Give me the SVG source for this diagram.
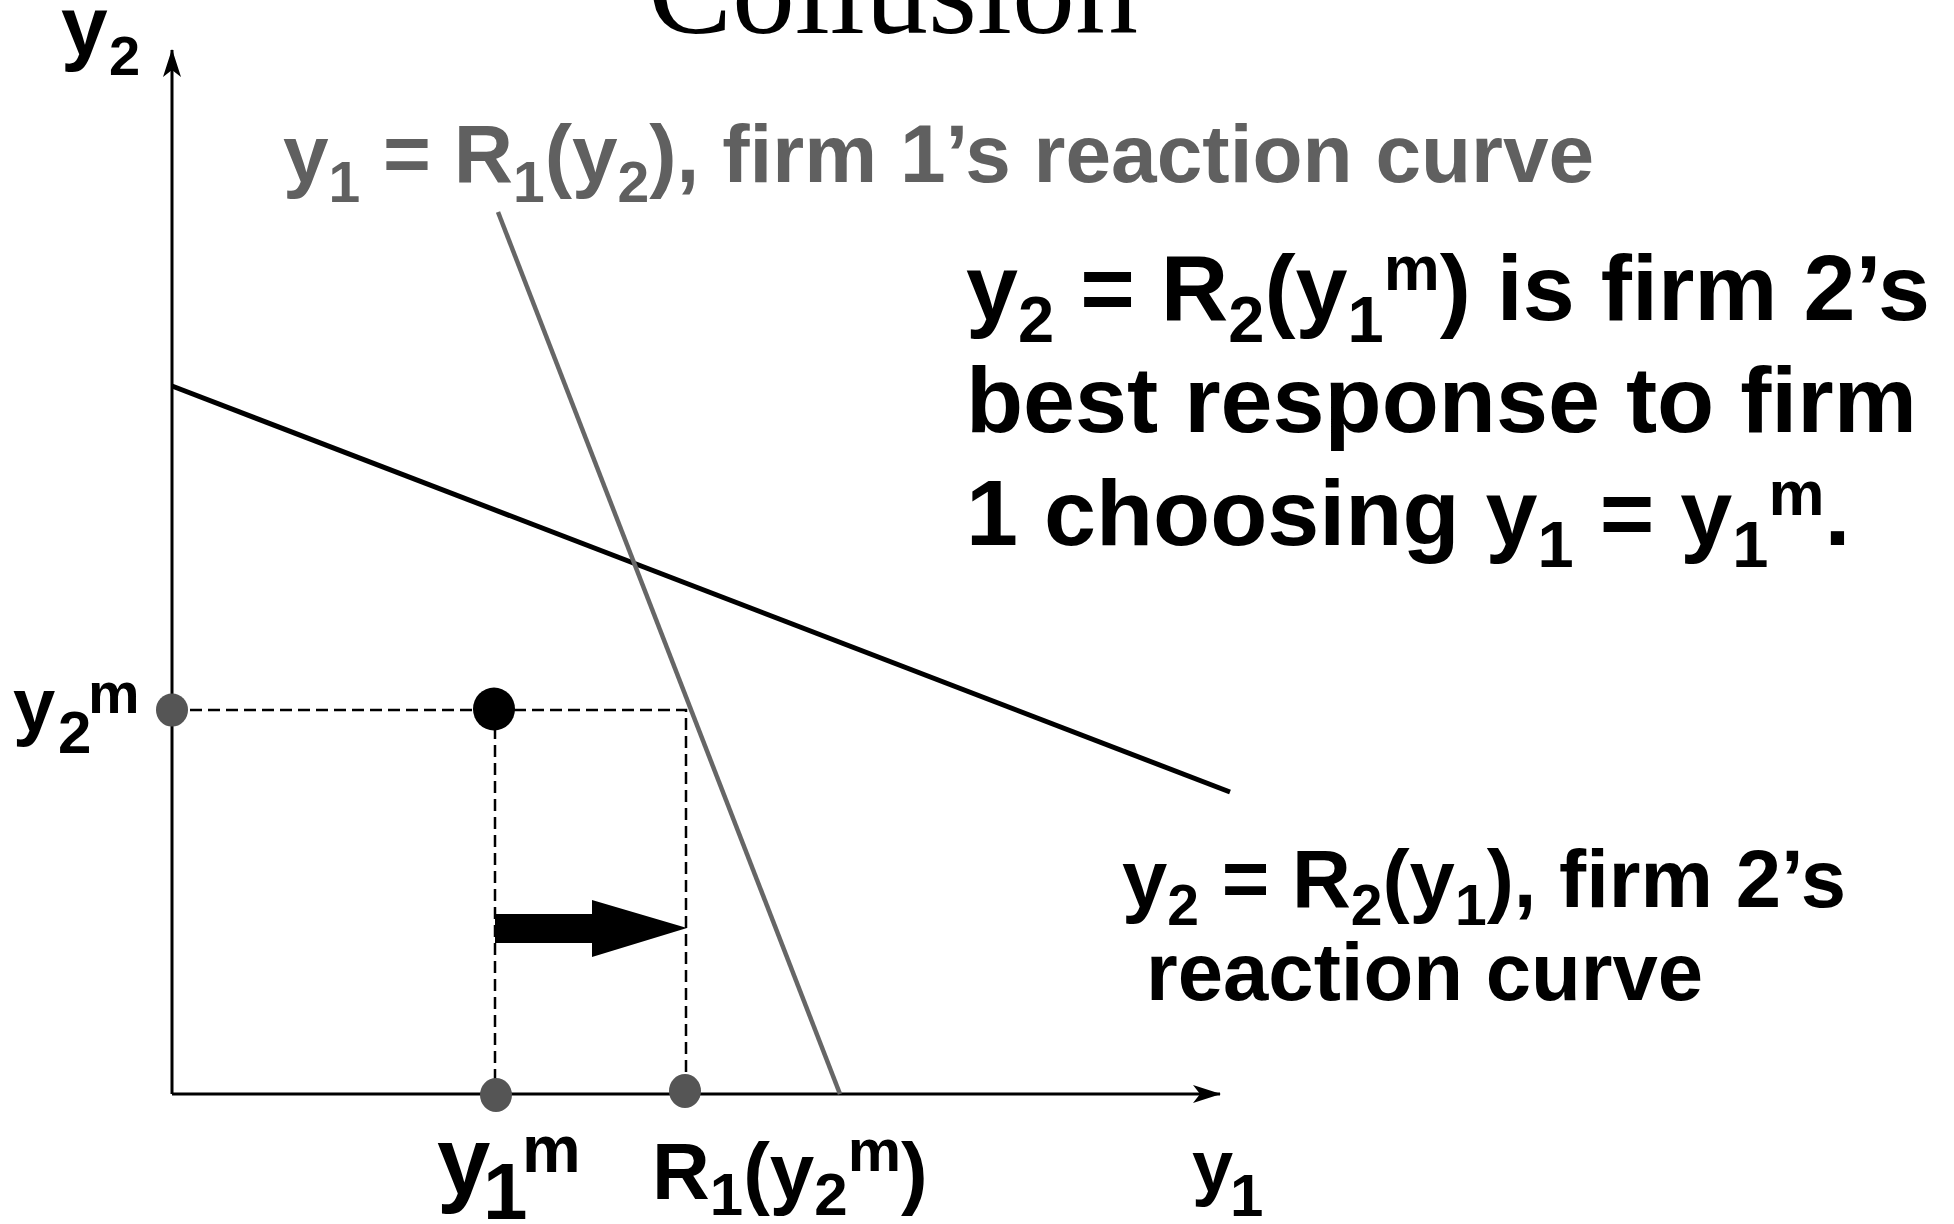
<svg xmlns="http://www.w3.org/2000/svg" width="1954" height="1224" viewBox="0 0 1954 1224">
<style>
.t{font-family:"Liberation Sans",Arial,sans-serif;font-weight:bold;fill:#000}
.g{fill:#606060}
.title{font-family:"Liberation Serif","Times New Roman",serif;font-size:126px;fill:#000}
.axis{stroke:#000;stroke-width:3;fill:none}
.dash{stroke:#000;stroke-width:2.5;stroke-dasharray:12 6;fill:none}
.dot{fill:#555}
</style>
<defs>
<marker id="ah" viewBox="0 0 28 18" refX="27" refY="9" markerWidth="28" markerHeight="18" markerUnits="userSpaceOnUse" orient="auto">
<path d="M28,9 L0,0 L7,9 L0,18 Z" fill="#000"/>
</marker>
</defs>
<rect width="1954" height="1224" fill="#fff"/>
<text class="title" x="648" y="33">Collusion</text>

<g id="connectors">
<line id="y-axis" class="axis" x1="172" y1="1094" x2="172" y2="50" marker-end="url(#ah)"/>
<line id="x-axis" class="axis" x1="172" y1="1094" x2="1220" y2="1094" marker-end="url(#ah)"/>
<line id="r2-curve" x1="172" y1="386" x2="1230" y2="792" stroke="#000" stroke-width="5"/>
<line id="r1-curve" x1="498" y1="212" x2="840" y2="1094" stroke="#666" stroke-width="4.5"/>
<polyline class="dash" points="172,710 686,710 686,1091"/>
<line class="dash" x1="495" y1="709" x2="495" y2="1095"/>
<polygon id="move-arrow" points="495,914 592,914 592,900 687,928 592,957 592,943 495,943" fill="#000"/>
</g>

<g id="point-y2m"><ellipse class="dot" cx="172" cy="710" rx="16" ry="16.5"/></g>
<g id="point-collusion"><ellipse cx="494" cy="709" rx="21" ry="21.5" fill="#000"/></g>
<g id="point-y1m"><ellipse class="dot" cx="496" cy="1095" rx="16" ry="17"/></g>
<g id="point-r1"><ellipse class="dot" cx="685" cy="1091" rx="16" ry="17"/></g>

<g id="label-y2-axis" class="t">
<text x="61" y="55" font-size="84">y</text>
<text x="109" y="75" font-size="56">2</text>
</g>
<g id="label-y2m" class="t">
<text x="13" y="731" font-size="76">y</text>
<text x="58" y="753" font-size="60">2</text>
<text x="88" y="713" font-size="58">m</text>
</g>
<g id="label-y1m" class="t">
<text x="437" y="1194" font-size="96">y</text>
<text x="483" y="1219" font-size="80">1</text>
<text x="522" y="1172" font-size="66">m</text>
</g>
<g id="label-r1y2m" class="t">
<text x="652" y="1199" font-size="80">R<tspan font-size="60" dy="16">1</tspan><tspan dy="-16">(y</tspan><tspan font-size="60" dy="16">2</tspan><tspan font-size="60" dy="-44">m</tspan><tspan dy="28">)</tspan></text>
</g>
<g id="label-y1-axis" class="t">
<text x="1192" y="1192" font-size="74">y</text>
<text x="1230" y="1216" font-size="60">1</text>
</g>

<g id="label-r1-curve" class="t g">
<text x="283" y="182" font-size="82">y<tspan font-size="57" dy="20">1</tspan><tspan dy="-20"> = R</tspan><tspan font-size="57" dy="20">1</tspan><tspan dy="-20">(y</tspan><tspan font-size="57" dy="20">2</tspan><tspan dy="-20">), firm 1’s reaction curve</tspan></text>
</g>

<g id="label-best-response" class="t">
<text x="966" y="320" font-size="93.5">y<tspan font-size="65" dy="22">2</tspan><tspan dy="-22"> = R</tspan><tspan font-size="65" dy="22">2</tspan><tspan dy="-22">(y</tspan><tspan font-size="65" dy="22">1</tspan><tspan font-size="63" dy="-52">m</tspan><tspan dy="30">) is firm 2’s</tspan></text>
<text x="966" y="432" font-size="93.5">best response to firm</text>
<text x="966" y="545" font-size="93.5">1 choosing y<tspan font-size="65" dy="22">1</tspan><tspan dy="-22"> = y</tspan><tspan font-size="65" dy="22">1</tspan><tspan font-size="63" dy="-52">m</tspan><tspan dy="30">.</tspan></text>
</g>

<g id="label-r2-curve" class="t">
<text x="1122" y="907" font-size="81.5">y<tspan font-size="57" dy="18">2</tspan><tspan dy="-18"> = R</tspan><tspan font-size="57" dy="18">2</tspan><tspan dy="-18">(y</tspan><tspan font-size="57" dy="18">1</tspan><tspan dy="-18">), firm 2’s</tspan></text>
<text x="1146" y="1000" font-size="81.5">reaction curve</text>
</g>
</svg>
